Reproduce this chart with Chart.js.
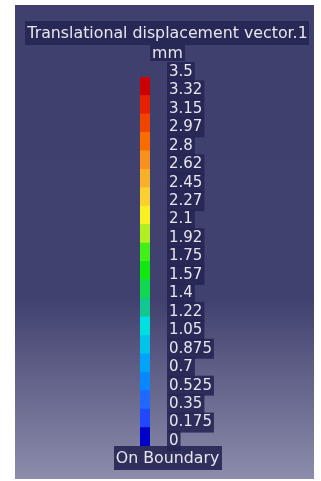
<!DOCTYPE html>
<html lang="en">
<head>
  <meta charset="UTF-8">
  <title>Translational displacement vector.1</title>
  <script src="https://cdn.jsdelivr.net/npm/chart.js"></script>
  <style>
    html, body { margin: 0; padding: 0; background: #fff; }
    .wrap { position: relative; width: 321px; height: 481px; overflow: hidden; }
    .panel {
      position: absolute; left: 15px; top: 5px; width: 299px; height: 474px;
      background: linear-gradient(to bottom, #40406e 0%, #41416f 62%, #8c8cac 100%);
    }
    canvas { position: absolute; left: 0; top: 0; }
  </style>
</head>
<body>
<div class="wrap">
  <div class="panel"></div>
  <canvas class="chart" width="321" height="481"></canvas>
</div>

<script>
  // Текст легенды
  const titleText = 'Translational displacement vector.1';
  const unitText = 'mm';
  const footerText = 'On Boundary';

  // Границы уровней (снизу вверх) и подписи к ним
  const levelValues = [0, 0.175, 0.35, 0.525, 0.7, 0.875, 1.05, 1.225, 1.4, 1.575, 1.75,
    1.925, 2.1, 2.275, 2.45, 2.625, 2.8, 2.975, 3.15, 3.325, 3.5];
  const levelLabels = ['0', '0.175', '0.35', '0.525', '0.7', '0.875', '1.05', '1.22', '1.4', '1.57', '1.75',
    '1.92', '2.1', '2.27', '2.45', '2.62', '2.8', '2.97', '3.15', '3.32', '3.5'];

  // Цвета полос (снизу вверх)
  const bandColors = ['#0000c8', '#2048ff', '#2068ff', '#0888ff', '#00a4f8', '#00c4e8', '#00e0e0',
    '#10c890', '#10d850', '#10e810', '#40f018', '#b0f020', '#f8f020', '#f8d030',
    '#f8b028', '#f89020', '#f86c00', '#f04400', '#e82000', '#cc0000'];

  const textColor = '#e6e6ee';
  const boxColor = 'rgba(38, 38, 84, 0.9)';
  const fontFamily = '"DejaVu Sans", sans-serif';

  // Полосы шкалы как плавающие столбцы
  const datasets = bandColors.map((color, i) => ({
    data: [[levelValues[i], levelValues[i + 1]]],
    backgroundColor: color,
    borderWidth: 0,
    barPercentage: 1,
    categoryPercentage: 1
  }));

  // Заголовок, единицы и подпись снизу
  const legendText = {
    id: 'legendText',
    afterDraw(chart) {
      const ctx = chart.ctx;
      const cx = 167.5;
      const items = [
        { text: titleText, y: 33, h: 24 },
        { text: unitText, y: 53, h: 16 },
        { text: footerText, y: 458, h: 24 }
      ];
      ctx.save();
      ctx.font = '15.8px ' + fontFamily;
      ctx.textAlign = 'center';
      ctx.textBaseline = 'middle';
      items.forEach(it => {
        const w = ctx.measureText(it.text).width + 4;
        ctx.fillStyle = boxColor;
        ctx.fillRect(Math.round(cx - w / 2), Math.round(it.y - it.h / 2), Math.round(w), it.h);
        ctx.fillStyle = textColor;
        ctx.fillText(it.text, cx, it.y + 1);
      });
      ctx.restore();
    }
  };

  const ctx = document.querySelector('.chart').getContext('2d');
  new Chart(ctx, {
    type: 'bar',
    data: { labels: [''], datasets: datasets },
    options: {
      responsive: false,
      animation: false,
      datasets: { bar: { grouped: false } },
      layout: { padding: { left: 140, right: 101, top: 77, bottom: 35 } },
      plugins: { legend: { display: false }, tooltip: { enabled: false } },
      scales: {
        x: { display: false },
        y: {
          position: 'right',
          min: 0,
          max: 3.5,
          afterFit: scale => { scale.width = 70; },
          afterBuildTicks: scale => {
            scale.ticks = levelValues.map(v => ({ value: v }));
          },
          grid: { display: false, drawTicks: false },
          border: { display: false },
          ticks: {
            autoSkip: false,
            padding: 19,
            labelOffset: -5,
            color: textColor,
            font: { family: fontFamily, size: 15 },
            showLabelBackdrop: true,
            backdropColor: boxColor,
            backdropPadding: { top: 1, bottom: 1, left: 2, right: 2 },
            callback: (value, index) => levelLabels[index]
          }
        }
      }
    },
    plugins: [legendText]
  });
</script>
</body>
</html>
